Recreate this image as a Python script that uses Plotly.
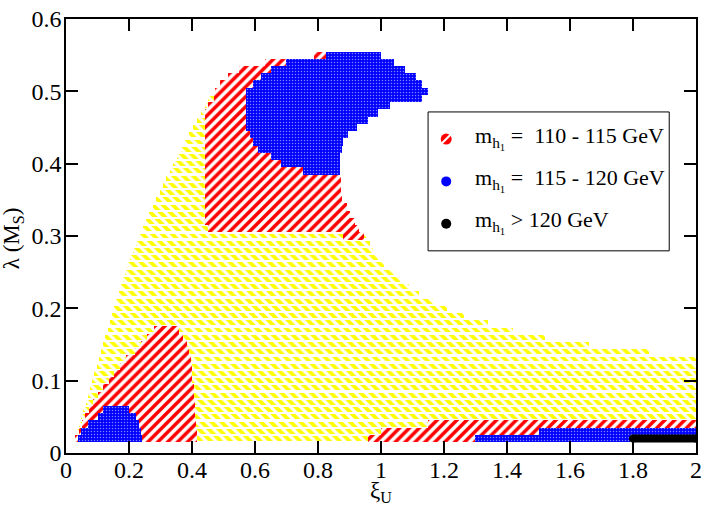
import plotly.graph_objects as go

# scan rows (lambda(M_S)) and the xi_U extent of each coloured region per row
# m_h1 < 110 GeV (yellow)
yel_y = [0.02, 0.03, 0.04, 0.05, 0.06, 0.07, 0.08, 0.09, 0.10, 0.11, 0.12, 0.13,
         0.14, 0.15, 0.16, 0.17, 0.18, 0.19, 0.20, 0.21, 0.22, 0.23, 0.24, 0.25,
         0.26, 0.27, 0.28, 0.29, 0.30, 0.31, 0.32, 0.33, 0.34, 0.35, 0.36, 0.37,
         0.38, 0.39, 0.40, 0.41, 0.42, 0.43, 0.44, 0.45, 0.46, 0.47, 0.48, 0.49]
yel_lo = [0.027, 0.034, 0.041, 0.048, 0.055, 0.062, 0.069, 0.076, 0.083, 0.090, 0.097, 0.104,
          0.111, 0.118, 0.125, 0.132, 0.139, 0.146, 0.153, 0.160, 0.167, 0.174, 0.181, 0.188,
          0.196, 0.204, 0.213, 0.222, 0.232, 0.244, 0.255, 0.265, 0.276, 0.287, 0.297, 0.308,
          0.319, 0.330, 0.340, 0.352, 0.364, 0.377, 0.390, 0.403, 0.416, 0.429, 0.442, 0.452]
yel_hi = [2.0, 2.0, 2.0, 2.0, 2.0, 2.0, 2.0, 2.0, 2.0, 2.0, 2.0, 2.0,
          1.85, 1.66, 1.52, 1.42, 1.34, 1.265, 1.21, 1.165, 1.12, 1.09, 1.06, 1.04,
          1.01, 0.99, 0.975, 0.965, 0.955, 0.45, 0.45, 0.45, 0.45, 0.45, 0.45, 0.45,
          0.45, 0.45, 0.45, 0.45, 0.45, 0.45, 0.45, 0.45, 0.45, 0.45, 0.455, 0.47]

# m_h1 = 110 - 115 GeV (red)
red_bl_y = [0.02, 0.03, 0.04, 0.05, 0.06, 0.07, 0.08, 0.09, 0.10, 0.11, 0.12, 0.13, 0.14, 0.15, 0.16, 0.17]
red_bl_lo = [0.03, 0.04, 0.05, 0.06, 0.072, 0.085, 0.10, 0.118, 0.135, 0.152, 0.17, 0.19, 0.218, 0.238, 0.258, 0.278]
red_bl_hi = [0.415, 0.415, 0.412, 0.41, 0.41, 0.41, 0.405, 0.405, 0.40, 0.40, 0.40, 0.398, 0.39, 0.383, 0.372, 0.36]
red_top_y = [0.30, 0.31, 0.32, 0.33, 0.34, 0.35, 0.36, 0.37, 0.38, 0.39, 0.40, 0.41, 0.42,
             0.43, 0.44, 0.45, 0.46, 0.47, 0.48, 0.49, 0.50, 0.51, 0.52, 0.53, 0.54, 0.55]
red_top_lo = [0.88, 0.45, 0.441, 0.441, 0.441, 0.441, 0.441, 0.441, 0.441, 0.441, 0.441, 0.441, 0.441,
              0.441, 0.441, 0.441, 0.441, 0.441, 0.451, 0.47, 0.474, 0.488, 0.515, 0.55, 0.632, 0.787]
red_top_hi = [0.945, 0.93, 0.919, 0.903, 0.892, 0.876, 0.873, 0.873, 0.873, 0.87, 0.87, 0.87, 0.87,
              0.87, 0.59, 0.58, 0.58, 0.58, 0.58, 0.58, 0.58, 0.60, 0.625, 0.655, 0.70, 0.83]
red_br_y = [0.02, 0.03, 0.04]
red_br_lo = [0.96, 1.0, 1.15]
red_br_hi = [1.30, 1.50, 2.0]

# m_h1 = 115 - 120 GeV (blue)
blue_top_y = [0.39, 0.40, 0.41, 0.42, 0.43, 0.44, 0.45, 0.46, 0.47, 0.48, 0.49, 0.50, 0.51, 0.52, 0.53, 0.54, 0.55]
blue_top_lo = [0.752, 0.683, 0.651, 0.609, 0.593, 0.583, 0.572, 0.572, 0.572, 0.572, 0.572, 0.572, 0.593, 0.62, 0.651, 0.698, 0.824]
blue_top_hi = [0.87, 0.87, 0.87, 0.875, 0.88, 0.895, 0.925, 0.96, 0.99, 1.03, 1.13, 1.15, 1.13, 1.11, 1.076, 1.04, 1.0]
blue_bl_y = [0.02, 0.03, 0.04, 0.05, 0.06]
blue_bl_lo = [0.037, 0.048, 0.069, 0.10, 0.116]
blue_bl_hi = [0.242, 0.237, 0.231, 0.221, 0.20]
blue_br_y = [0.02, 0.03]
blue_br_lo = [1.297, 1.50]
blue_br_hi = [1.79, 2.0]

# m_h1 > 120 GeV (black)
blk_y = [0.02, 0.02]
blk_x = [1.80, 2.0]

LEG_TXT = ['m<sub>h<sub>1</sub></sub> =\u00a0 110 - 115 GeV',
           'm<sub>h<sub>1</sub></sub> =\u00a0 115 - 120 GeV',
           'm<sub>h<sub>1</sub></sub> > 120 GeV']
FONT = 'Liberation Serif'


def band(y, lo, hi, thick, color, pattern):
    return go.Bar(
        y=y, base=lo, x=[h - l for l, h in zip(lo, hi)], orientation='h',
        width=thick, marker=dict(color=color, line_width=0, opacity=1, pattern=pattern),
        showlegend=False, hoverinfo='skip'
    )


fig = go.Figure()
fig.add_trace(band(yel_y, yel_lo, yel_hi, 0.0068, '#ffff00',
                   dict(shape='\\', size=7, solidity=0.55, fgopacity=1,
                        bgcolor='white', fgcolor='#ffff00')))
fig.add_trace(band(red_bl_y + red_top_y + red_br_y,
                   red_bl_lo + red_top_lo + red_br_lo,
                   red_bl_hi + red_top_hi + red_br_hi, 0.01, '#ff0000',
                   dict(shape='/', size=7, solidity=0.5, fgopacity=1,
                        bgcolor='white', fgcolor='#ff0000')))
fig.add_trace(band(blue_top_y + blue_bl_y + blue_br_y,
                   blue_top_lo + blue_bl_lo + blue_br_lo,
                   blue_top_hi + blue_bl_hi + blue_br_hi, 0.01, '#0000ff',
                   dict(shape='.', size=3, solidity=0.2, fillmode='overlay', fgcolor='white')))
fig.add_trace(go.Scatter(
    x=blk_x, y=blk_y, mode='lines+markers', line=dict(color='black', width=8),
    marker=dict(color='black', size=8), showlegend=False, hoverinfo='skip'
))

# hand-made legend --------------------------------------------------------------
leg_sym_y = [0.434, 0.3755, 0.317]
leg_txt_y = [0.436, 0.378, 0.320]
fig.add_shape(type='rect', x0=1.1495, x1=1.915, y0=0.2795, y1=0.4715,
              line=dict(color='black', width=1), fillcolor='white', layer='below')
fig.add_trace(go.Scatter(
    x=[1.207] * 3, y=leg_sym_y, mode='markers',
    marker=dict(color=['#ff0000', '#0000ff', 'black'], size=[11, 10, 10], opacity=1,
                line=dict(width=0)),
    showlegend=False, hoverinfo='skip'
))
fig.add_trace(go.Scatter(
    x=[1.207], y=leg_sym_y[:1], mode='markers',
    marker=dict(symbol='line-ne', size=9, line=dict(color='white', width=2)),
    showlegend=False, hoverinfo='skip'
))
for t, yy in zip(LEG_TXT, leg_txt_y):
    fig.add_annotation(x=1.291, y=yy, text=t, showarrow=False, xanchor='left',
                       yanchor='middle', font=dict(family=FONT, size=22, color='black'))

# axis titles ----------------------------------------------------------------
fig.add_annotation(x=0.4996, y=-0.091, xref='paper', yref='paper', text='ξ<sub>U</sub>',
                   xanchor='center', yanchor='middle', showarrow=False,
                   font=dict(family=FONT, size=23, color='black'))
fig.add_annotation(x=-0.084, y=0.495, xref='paper', yref='paper', text='λ (M<sub>S</sub>)',
                   xanchor='center', yanchor='middle', textangle=-90, showarrow=False,
                   font=dict(family=FONT, size=23, color='black'))

axis = dict(showgrid=False, zeroline=False, showline=True, linecolor='black', linewidth=1.5,
            mirror='ticks', ticks='inside', ticklen=12, tickwidth=1.5, tickcolor='black',
            ticklabeloverflow='allow', tickfont=dict(family=FONT, size=24, color='black'))
fig.update_xaxes(range=[0, 2], dtick=0.2, tick0=0, ticklabelstandoff=-6, **axis)
fig.update_yaxes(range=[0, 0.6], dtick=0.1, tick0=0, ticklabelstandoff=-2, **axis)
fig.update_layout(
    width=708, height=509, barmode='overlay', bargap=0,
    margin=dict(l=66, r=6, t=9, b=56),
    plot_bgcolor='white', paper_bgcolor='white',
)
fig.write_html('out.html', config={'displayModeBar': False},
               post_script="document.body.style.margin = '0';")
